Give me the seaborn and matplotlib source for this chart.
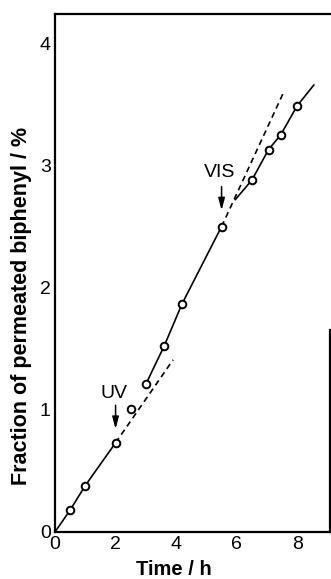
import numpy as np
import pandas as pd
import matplotlib
matplotlib.use("Agg")
import matplotlib.pyplot as plt
import seaborn as sns

# Measured permeation of biphenyl
time_h = [0.5, 1.0, 2.0, 2.5, 3.0, 3.6, 4.2, 5.5, 6.5, 7.05, 7.45, 8.0]
fraction = [0.18, 0.38, 0.73, 1.01, 1.21, 1.52, 1.87, 2.50, 2.88, 3.13, 3.25, 3.49]

# Solid curves through the data (dark, after UV, after VIS)
dark_t = [0.0, 0.5, 1.0, 2.0]
dark_y = [0.0, 0.18, 0.38, 0.73]
uv_t = [3.0, 3.6, 4.2, 5.5]
uv_y = [1.21, 1.52, 1.87, 2.50]
vis_t = [5.95, 6.5, 7.05, 7.45, 8.0, 8.55]
vis_y = [2.72, 2.88, 3.13, 3.25, 3.49, 3.66]

# Dashed extrapolations of the preceding rate
uv_ext_t = [2.0, 3.9]
uv_ext_y = [0.73, 1.41]
vis_ext_t = [5.5, 7.55]
vis_ext_y = [2.50, 3.60]

xticks = [0, 2, 4, 6, 8]
yticks = [0, 1, 2, 3, 4]

sns.set_theme(style="white")
plt.rcParams["font.family"] = ["Liberation Sans", "DejaVu Sans"]
plt.rcParams["text.color"] = "black"
plt.rcParams["axes.labelcolor"] = "black"

fig = plt.figure(figsize=(3.31, 5.79), dpi=100)
ax = fig.add_axes([55 / 331, 47 / 579, 275 / 331, 518 / 579])

line_kw = dict(color="black", linewidth=1.2, estimator=None, sort=False, legend=False, ax=ax)
for t, y in [(dark_t, dark_y), (uv_t, uv_y), (vis_t, vis_y)]:
    sns.lineplot(x=t, y=y, **line_kw)
for t, y in [(uv_ext_t, uv_ext_y), (vis_ext_t, vis_ext_y)]:
    l = sns.lineplot(x=t, y=y, **line_kw).lines[-1]
    l.set_dashes((3.5, 2.5))

pts = pd.DataFrame({"t": time_h, "f": fraction})
sns.scatterplot(data=pts, x="t", y="f", ax=ax, s=30, facecolor="white",
                edgecolor="black", linewidth=1.4, zorder=5, legend=False)

arrow = dict(arrowstyle="-|>,head_length=0.6,head_width=0.16", color="black", lw=1.1)
ax.annotate("", xy=(2.0, 0.82), xytext=(2.0, 1.06), arrowprops=arrow)
ax.text(1.96, 1.13, "UV", ha="center", va="center", fontsize=14)
ax.annotate("", xy=(5.5, 2.61), xytext=(5.5, 2.85), arrowprops=arrow)
ax.text(5.42, 2.94, "VIS", ha="center", va="center", fontsize=14)

ax.set_xlim(0, 9.08)
ax.set_ylim(0, 4.24)
ax.set_xticks(xticks)
ax.set_yticks(yticks)
ax.tick_params(direction="in", length=4, width=1.2, labelsize=14, colors="black")
ax.tick_params(axis="x", pad=3)
ax.tick_params(axis="y", pad=3)

for side in ["left", "bottom", "top", "right"]:
    ax.spines[side].set_visible(True)
    ax.spines[side].set_color("black")
    ax.spines[side].set_linewidth(1.6)
ax.spines["right"].set_bounds(0, 1.65)

ax.set_xlabel("Time / h", fontsize=14.5, fontweight="bold", va="center")
ax.set_ylabel("Fraction of permeated biphenyl / %", fontsize=15.5, fontweight="bold",
              va="center")
ax.xaxis.set_label_coords(0.433, -0.073)
ax.yaxis.set_label_coords(-0.12, 0.436)

fig.savefig("out.png", dpi=100)
